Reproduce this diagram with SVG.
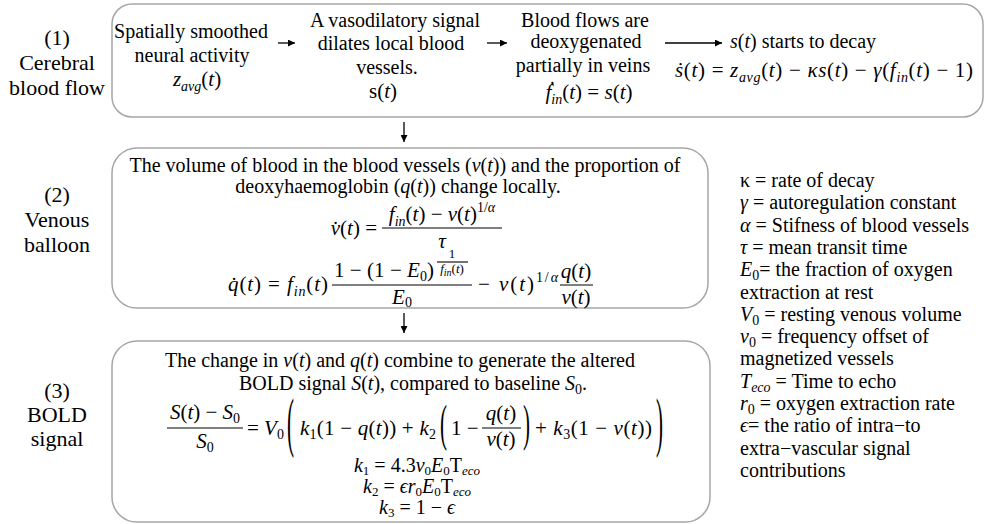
<svg xmlns="http://www.w3.org/2000/svg" width="985" height="524" viewBox="0 0 985 524">
<defs>
<style>
.box{fill:#fff;stroke:#a6a6a6;stroke-width:1.5}
.bar{stroke:#000;stroke-width:1.1}
.conn line{stroke:#000;stroke-width:1.3;marker-end:url(#ah)}
</style>
<marker id="ah" viewBox="0 0 10 10" refX="10" refY="5" markerWidth="8" markerHeight="7" markerUnits="userSpaceOnUse" orient="auto"><path d="M0,0 L10,5 L0,10 z" fill="#000"/></marker>
</defs>
<rect width="985" height="524" fill="#fff"/>

<g id="stage-labels" font-family="Liberation Serif" font-size="22" text-anchor="middle">
<text x="57" y="45">(1)</text>
<text x="57" y="70">Cerebral</text>
<text x="57" y="95">blood flow</text>
<text x="57" y="202">(2)</text>
<text x="57" y="227">Venous</text>
<text x="57" y="252">balloon</text>
<text x="57" y="398">(3)</text>
<text x="57" y="422">BOLD</text>
<text x="57" y="446">signal</text>
</g>

<g id="node-cerebral-blood-flow" font-family="Liberation Serif" font-size="20">
<rect class="box" x="112" y="4" width="871" height="113" rx="20"/>
<text text-anchor="middle" x="191" y="38">Spatially smoothed</text>
<text text-anchor="middle" x="192" y="62">neural activity</text>
<text text-anchor="middle" font-size="21" x="197" y="86"><tspan font-style="italic">z</tspan><tspan font-style="italic" font-size="14" dy="5">avg</tspan><tspan dy="-5">(</tspan><tspan font-style="italic">t</tspan>)</text>
<text text-anchor="middle" x="395" y="27">A vasodilatory signal</text>
<text text-anchor="middle" x="391" y="50">dilates local blood</text>
<text text-anchor="middle" x="387" y="74">vessels.</text>
<text text-anchor="middle" font-size="21" x="383" y="98">s(<tspan font-style="italic">t</tspan>)</text>
<text text-anchor="middle" x="585" y="27">Blood flows are</text>
<text text-anchor="middle" x="586" y="48">deoxygenated</text>
<text text-anchor="middle" x="583" y="72">partially in veins</text>
<text text-anchor="middle" font-size="21" x="589" y="99"><tspan font-style="italic">ḟ</tspan><tspan font-style="italic" font-size="14" dy="5">in</tspan><tspan dy="-5">(</tspan><tspan font-style="italic">t</tspan>) = <tspan font-style="italic">s</tspan>(<tspan font-style="italic">t</tspan>)</text>
<text x="730" y="48"><tspan font-style="italic">s</tspan>(<tspan font-style="italic">t</tspan>) starts to decay</text>
<text font-size="21" x="675" y="77" textLength="298" lengthAdjust="spacing"><tspan font-style="italic">ṡ</tspan>(<tspan font-style="italic">t</tspan>) = <tspan font-style="italic">z</tspan><tspan font-style="italic" font-size="14" dy="5">avg</tspan><tspan dy="-5">(</tspan><tspan font-style="italic">t</tspan>) − <tspan font-style="italic">κs</tspan>(<tspan font-style="italic">t</tspan>) − <tspan font-style="italic">γ</tspan>(<tspan font-style="italic">f</tspan><tspan font-style="italic" font-size="14" dy="5">in</tspan><tspan dy="-5">(</tspan><tspan font-style="italic">t</tspan>) − 1)</text>
</g>

<g id="node-venous-balloon" font-family="Liberation Serif" font-size="21">
<rect class="box" x="112" y="148" width="596" height="160" rx="25"/>
<text text-anchor="middle" font-size="20" x="405" y="172">The volume of blood in the blood vessels (<tspan font-style="italic">v</tspan>(<tspan font-style="italic">t</tspan>)) and the proportion of</text>
<text text-anchor="middle" font-size="20" x="398" y="193">deoxyhaemoglobin (<tspan font-style="italic">q</tspan>(<tspan font-style="italic">t</tspan>)) change locally.</text>
<text text-anchor="end" x="377" y="235"><tspan font-style="italic">v̇</tspan>(<tspan font-style="italic">t</tspan>) =</text>
<text text-anchor="middle" x="442" y="221"><tspan font-style="italic">f</tspan><tspan font-style="italic" font-size="14" dy="5">in</tspan><tspan dy="-5">(</tspan><tspan font-style="italic">t</tspan>) − <tspan font-style="italic">v</tspan>(<tspan font-style="italic">t</tspan>)<tspan font-size="14" dy="-9">1/</tspan><tspan font-size="14" font-style="italic">α</tspan></text>
<line class="bar" x1="382" y1="228" x2="502" y2="228"/>
<text text-anchor="middle" font-style="italic" x="442" y="248">τ</text>
<text x="228" y="291" textLength="100" lengthAdjust="spacing"><tspan font-style="italic">q̇</tspan>(<tspan font-style="italic">t</tspan>) = <tspan font-style="italic">f</tspan><tspan font-style="italic" font-size="14" dy="5">in</tspan><tspan dy="-5">(</tspan><tspan font-style="italic">t</tspan>)</text>
<text x="334" y="277" textLength="100" lengthAdjust="spacing">1 − (1 − <tspan font-style="italic">E</tspan><tspan font-size="14" dy="4">0</tspan><tspan dy="-4">)</tspan></text>
<text text-anchor="middle" font-size="13" x="452" y="258">1</text>
<line class="bar" x1="437" y1="262" x2="468" y2="262"/>
<text text-anchor="middle" font-size="13" x="452" y="273"><tspan font-style="italic">f</tspan><tspan font-style="italic" font-size="10" dy="3">in</tspan><tspan dy="-3">(</tspan><tspan font-style="italic">t</tspan>)</text>
<line class="bar" x1="332" y1="285" x2="472" y2="285"/>
<text text-anchor="middle" x="402" y="304"><tspan font-style="italic">E</tspan><tspan font-size="14" dy="3">0</tspan></text>
<text x="478" y="291" textLength="80" lengthAdjust="spacing">− <tspan font-style="italic">v</tspan>(<tspan font-style="italic">t</tspan>)<tspan font-size="14" dy="-9">1/</tspan><tspan font-size="14" font-style="italic">α</tspan></text>
<text text-anchor="middle" x="576" y="278"><tspan font-style="italic">q</tspan>(<tspan font-style="italic">t</tspan>)</text>
<line class="bar" x1="560" y1="285" x2="593" y2="285"/>
<text text-anchor="middle" x="576" y="304"><tspan font-style="italic">v</tspan>(<tspan font-style="italic">t</tspan>)</text>
</g>

<g id="node-bold-signal" font-family="Liberation Serif" font-size="21">
<rect class="box" x="112" y="341" width="598" height="181" rx="25"/>
<text text-anchor="middle" font-size="20" x="400" y="367">The change in <tspan font-style="italic">v</tspan>(<tspan font-style="italic">t</tspan>) and <tspan font-style="italic">q</tspan>(<tspan font-style="italic">t</tspan>) combine to generate the altered</text>
<text text-anchor="middle" font-size="20" x="413" y="390">BOLD signal <tspan font-style="italic">S</tspan>(<tspan font-style="italic">t</tspan>), compared to baseline <tspan font-style="italic">S</tspan><tspan font-size="14" dy="4">0</tspan><tspan dy="-4">.</tspan></text>
<text text-anchor="middle" x="205" y="419"><tspan font-style="italic">S</tspan>(<tspan font-style="italic">t</tspan>) − <tspan font-style="italic">S</tspan><tspan font-size="14" dy="4">0</tspan></text>
<line class="bar" x1="167" y1="428" x2="243" y2="428"/>
<text text-anchor="middle" x="205" y="448"><tspan font-style="italic">S</tspan><tspan font-size="14" dy="4">0</tspan></text>
<text x="247" y="435">= <tspan font-style="italic">V</tspan><tspan font-size="14" dy="4">0</tspan></text>
<text transform="translate(287 428) scale(1 3.1)" y="5">(</text>
<text x="300" y="435" textLength="136" lengthAdjust="spacing"><tspan font-style="italic">k</tspan><tspan font-size="14" dy="4">1</tspan><tspan dy="-4">(1 − </tspan><tspan font-style="italic">q</tspan>(<tspan font-style="italic">t</tspan>)) + <tspan font-style="italic">k</tspan><tspan font-size="14" dy="4">2</tspan></text>
<text transform="translate(440 428) scale(1 2.4)" y="5">(</text>
<text x="451" y="435">1 −</text>
<text text-anchor="middle" x="501" y="420"><tspan font-style="italic">q</tspan>(<tspan font-style="italic">t</tspan>)</text>
<line class="bar" x1="482" y1="428" x2="521" y2="428"/>
<text text-anchor="middle" x="501" y="446"><tspan font-style="italic">v</tspan>(<tspan font-style="italic">t</tspan>)</text>
<text transform="translate(523 428) scale(1 2.4)" y="5">)</text>
<text x="535" y="435" textLength="117" lengthAdjust="spacing">+ <tspan font-style="italic">k</tspan><tspan font-size="14" dy="4">3</tspan><tspan dy="-4">(1 − </tspan><tspan font-style="italic">v</tspan>(<tspan font-style="italic">t</tspan>))</text>
<text transform="translate(656 428) scale(1 3.1)" y="5">)</text>
<text text-anchor="middle" font-size="20" x="417" y="472"><tspan font-style="italic">k</tspan><tspan font-size="13" dy="3">1</tspan><tspan dy="-3"> = 4.3</tspan><tspan font-style="italic">v</tspan><tspan font-size="13" dy="3">0</tspan><tspan font-style="italic" dy="-3">E</tspan><tspan font-size="13" dy="3">0</tspan><tspan dy="-3">T</tspan><tspan font-style="italic" font-size="13" dy="3">eco</tspan></text>
<text text-anchor="middle" font-size="20" x="417" y="493"><tspan font-style="italic">k</tspan><tspan font-size="13" dy="3">2</tspan><tspan dy="-3"> = </tspan><tspan font-style="italic">ϵr</tspan><tspan font-size="13" dy="3">0</tspan><tspan font-style="italic" dy="-3">E</tspan><tspan font-size="13" dy="3">0</tspan><tspan dy="-3">T</tspan><tspan font-style="italic" font-size="13" dy="3">eco</tspan></text>
<text text-anchor="middle" font-size="20" x="417" y="514"><tspan font-style="italic">k</tspan><tspan font-size="13" dy="3">3</tspan><tspan dy="-3"> = 1 − </tspan><tspan font-style="italic">ϵ</tspan></text>
</g>

<g id="legend" font-family="Liberation Serif" font-size="20">
<text x="740" y="187">κ = rate of decay</text>
<text x="740" y="209"><tspan font-style="italic">γ</tspan> = autoregulation constant</text>
<text x="740" y="232"><tspan font-style="italic">α</tspan> = Stifness of blood vessels</text>
<text x="740" y="254"><tspan font-style="italic">τ</tspan> = mean transit time</text>
<text x="740" y="276"><tspan font-style="italic">E</tspan><tspan font-size="14" dy="4">0</tspan><tspan dy="-4">= the fraction of oxygen</tspan></text>
<text x="740" y="299">extraction at rest</text>
<text x="740" y="321"><tspan font-style="italic">V</tspan><tspan font-size="14" dy="4">0</tspan><tspan dy="-4"> = resting venous volume</tspan></text>
<text x="740" y="343"><tspan font-style="italic">v</tspan><tspan font-size="14" dy="4">0</tspan><tspan dy="-4"> = frequency offset of</tspan></text>
<text x="740" y="365">magnetized vessels</text>
<text x="740" y="388"><tspan font-style="italic">T</tspan><tspan font-style="italic" font-size="14" dy="4">eco</tspan><tspan dy="-4"> = Time to echo</tspan></text>
<text x="740" y="410"><tspan font-style="italic">r</tspan><tspan font-size="14" dy="4">0</tspan><tspan dy="-4"> = oxygen extraction rate</tspan></text>
<text x="740" y="432"><tspan font-style="italic">ϵ</tspan>= the ratio of intra−to</text>
<text x="740" y="455">extra−vascular signal</text>
<text x="740" y="477">contributions</text>
</g>

<g id="connectors" class="conn">
<line x1="278" y1="43" x2="295" y2="43"/>
<line x1="487" y1="43" x2="507" y2="43"/>
<line x1="665" y1="43" x2="722" y2="43"/>
<line x1="404" y1="122" x2="404" y2="142"/>
<line x1="404" y1="313" x2="404" y2="333"/>
</g>
</svg>
